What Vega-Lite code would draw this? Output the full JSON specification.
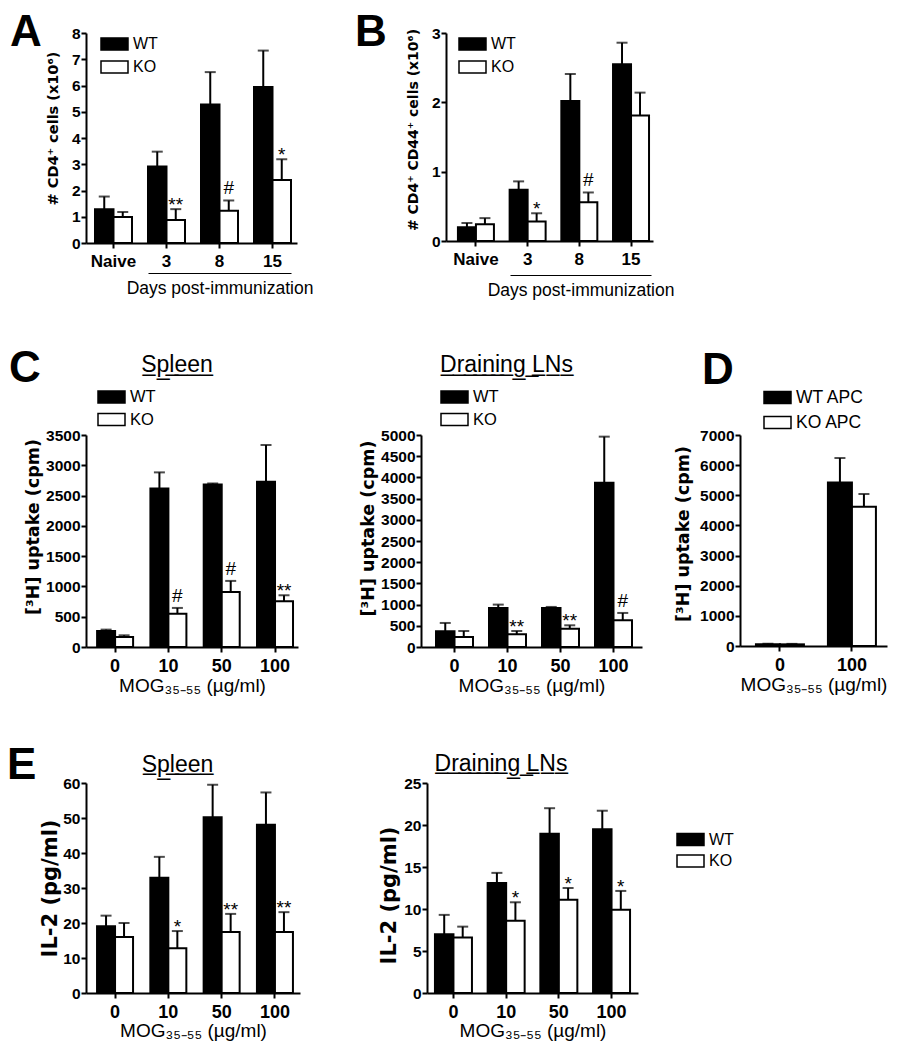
{
"$schema": "https://vega.github.io/schema/vega-lite/v6.json",
"background": "white",
"padding": {"left": 7, "top": 10, "right": 5, "bottom": 5},
"config": {
  "view": {"stroke": null},
  "font": "Liberation Sans",
  "axis": {"domainColor": "black", "domainWidth": 2, "tickColor": "black", "tickWidth": 2, "tickSize": 5, "labelColor": "black", "titleColor": "black", "grid": false, "labelFont": "Liberation Sans", "titleFont": "Liberation Sans"},
  "axisY": {"labelFontSize": 15.5, "labelFontWeight": "bold", "labelPadding": 1, "titleFont": "DejaVu Sans", "titleFontWeight": "bold"},
  "axisX": {"labelFontSize": 18, "labelFontWeight": "bold", "labelAngle": 0, "labelPadding": 5, "titleFontWeight": "normal", "titleFontSize": 19},
  "legend": {"orient": "none", "padding": 0, "labelFont": "Liberation Sans", "labelColor": "black", "labelOffset": 4, "clipHeight": 16, "symbolOffset": 0, "symbolStrokeColor": "black", "symbolStrokeWidth": 1.5},
  "title": {"color": "black", "font": "Liberation Sans", "offset": 0}
},
"datasets": {
  "A": [
    {"dose": "Naive", "g": "WT", "v": 1.29, "hi": 1.77, "sig": ""},
    {"dose": "Naive", "g": "KO", "v": 0.99, "hi": 1.18, "sig": ""},
    {"dose": "3", "g": "WT", "v": 2.91, "hi": 3.48, "sig": ""},
    {"dose": "3", "g": "KO", "v": 0.88, "hi": 1.29, "sig": "**"},
    {"dose": "8", "g": "WT", "v": 5.28, "hi": 6.51, "sig": ""},
    {"dose": "8", "g": "KO", "v": 1.23, "hi": 1.62, "sig": "#"},
    {"dose": "15", "g": "WT", "v": 5.94, "hi": 7.33, "sig": ""},
    {"dose": "15", "g": "KO", "v": 2.40, "hi": 3.19, "sig": "*"}
  ],
  "B": [
    {"dose": "Naive", "g": "WT", "v": 0.20, "hi": 0.26, "sig": ""},
    {"dose": "Naive", "g": "KO", "v": 0.24, "hi": 0.33, "sig": ""},
    {"dose": "3", "g": "WT", "v": 0.74, "hi": 0.86, "sig": ""},
    {"dose": "3", "g": "KO", "v": 0.28, "hi": 0.40, "sig": "*"},
    {"dose": "8", "g": "WT", "v": 2.02, "hi": 2.41, "sig": ""},
    {"dose": "8", "g": "KO", "v": 0.56, "hi": 0.70, "sig": "#"},
    {"dose": "15", "g": "WT", "v": 2.55, "hi": 2.86, "sig": ""},
    {"dose": "15", "g": "KO", "v": 1.81, "hi": 2.14, "sig": ""}
  ],
  "Cs": [
    {"dose": "0", "g": "WT", "v": 265, "hi": 287, "sig": ""},
    {"dose": "0", "g": "KO", "v": 165, "hi": 193, "sig": ""},
    {"dose": "10", "g": "WT", "v": 2618, "hi": 2883, "sig": ""},
    {"dose": "10", "g": "KO", "v": 551, "hi": 645, "sig": "#"},
    {"dose": "50", "g": "WT", "v": 2684, "hi": 2700, "sig": ""},
    {"dose": "50", "g": "KO", "v": 909, "hi": 1091, "sig": "#"},
    {"dose": "100", "g": "WT", "v": 2728, "hi": 3335, "sig": ""},
    {"dose": "100", "g": "KO", "v": 755, "hi": 854, "sig": "**"}
  ],
  "Cl": [
    {"dose": "0", "g": "WT", "v": 370, "hi": 567, "sig": ""},
    {"dose": "0", "g": "KO", "v": 236, "hi": 378, "sig": ""},
    {"dose": "10", "g": "WT", "v": 921, "hi": 1000, "sig": ""},
    {"dose": "10", "g": "KO", "v": 299, "hi": 378, "sig": "**"},
    {"dose": "50", "g": "WT", "v": 921, "hi": 945, "sig": ""},
    {"dose": "50", "g": "KO", "v": 433, "hi": 512, "sig": "**"},
    {"dose": "100", "g": "WT", "v": 3874, "hi": 4961, "sig": ""},
    {"dose": "100", "g": "KO", "v": 630, "hi": 803, "sig": "#"}
  ],
  "D": [
    {"dose": "0", "g": "WT APC", "v": 60, "hi": 75, "sig": ""},
    {"dose": "0", "g": "KO APC", "v": 55, "hi": 70, "sig": ""},
    {"dose": "100", "g": "WT APC", "v": 5427, "hi": 6236, "sig": ""},
    {"dose": "100", "g": "KO APC", "v": 4619, "hi": 5040, "sig": ""}
  ],
  "Es": [
    {"dose": "0", "g": "WT", "v": 19.1, "hi": 22.1, "sig": ""},
    {"dose": "0", "g": "KO", "v": 16.0, "hi": 20.0, "sig": ""},
    {"dose": "10", "g": "WT", "v": 32.9, "hi": 38.9, "sig": ""},
    {"dose": "10", "g": "KO", "v": 12.8, "hi": 17.7, "sig": "*"},
    {"dose": "50", "g": "WT", "v": 50.2, "hi": 59.5, "sig": ""},
    {"dose": "50", "g": "KO", "v": 17.4, "hi": 22.6, "sig": "**"},
    {"dose": "100", "g": "WT", "v": 48.1, "hi": 57.3, "sig": ""},
    {"dose": "100", "g": "KO", "v": 17.4, "hi": 23.1, "sig": "**"}
  ],
  "El": [
    {"dose": "0", "g": "WT", "v": 7.0, "hi": 9.3, "sig": ""},
    {"dose": "0", "g": "KO", "v": 6.6, "hi": 7.9, "sig": ""},
    {"dose": "10", "g": "WT", "v": 13.1, "hi": 14.3, "sig": ""},
    {"dose": "10", "g": "KO", "v": 8.6, "hi": 10.8, "sig": "*"},
    {"dose": "50", "g": "WT", "v": 18.95, "hi": 22.0, "sig": ""},
    {"dose": "50", "g": "KO", "v": 11.1, "hi": 12.5, "sig": "*"},
    {"dose": "100", "g": "WT", "v": 19.5, "hi": 21.7, "sig": ""},
    {"dose": "100", "g": "KO", "v": 9.9, "hi": 12.15, "sig": "*"}
  ]
},
"bounds": "flush",
"spacing": 402,
"resolve": {"scale": {"fill": "independent"}, "legend": {"fill": "independent"}},
"vconcat": [
  {
    "hconcat": [
      {
        "width": 211, "height": 210,
        "data": {"name": "A"},
        "title": {"text": "A", "anchor": "start", "frame": "group", "orient": "top", "offset": 0, "fontSize": 44, "fontWeight": "bold", "baseline": "alphabetic", "dx": -76, "dy": 63.6},
        "layer": [
          {
            "encoding": {
              "x": {"field": "dose", "type": "nominal", "sort": ["Naive", "3", "8", "15"], "scale": {"paddingInner": 0.302, "paddingOuter": 0.1415, "align": 0.6}, "axis": {"title": null, "labelFontSize": 17}}
            },
            "layer": [
              {"transform": [{"filter": "datum.g == 'WT'"}], "mark": {"type": "bar", "stroke": "black", "strokeWidth": 2, "width": 18.5, "xOffset": -9.25},
               "encoding": {
                 "y": {"field": "v", "type": "quantitative", "title": "# CD4⁺ cells (x10⁶)", "scale": {"domain": [0, 8], "nice": false}, "axis": {"values": [0, 1, 2, 3, 4, 5, 6, 7, 8], "format": "d", "title": "# CD4⁺ cells (x10⁶)", "titleFontSize": 14.5, "titlePadding": 11, "titleY": 95}},
                 "fill": {"field": "g", "type": "nominal", "scale": {"domain": ["WT", "KO"], "range": ["black", "white"]}, "legend": {"title": null, "orient": "none", "legendX": 14, "legendY": 3, "labelFontSize": 16, "rowPadding": 7, "symbolType": "M-1,-0.45H1V0.45H-1Z", "symbolSize": 729}}
               }},
              {"transform": [{"filter": "datum.g == 'KO'"}], "mark": {"type": "bar", "stroke": "black", "strokeWidth": 2, "width": 18.5, "xOffset": 9.25},
               "encoding": {
                 "y": {"field": "v", "type": "quantitative", "title": "# CD4⁺ cells (x10⁶)", "scale": {"domain": [0, 8], "nice": false}, "axis": {"values": [0, 1, 2, 3, 4, 5, 6, 7, 8], "format": "d", "title": "# CD4⁺ cells (x10⁶)", "titleFontSize": 14.5, "titlePadding": 11, "titleY": 95}},
                 "fill": {"field": "g", "type": "nominal", "scale": {"domain": ["WT", "KO"], "range": ["black", "white"]}, "legend": {"title": null, "orient": "none", "legendX": 14, "legendY": 3, "labelFontSize": 16, "rowPadding": 7, "symbolType": "M-1,-0.45H1V0.45H-1Z", "symbolSize": 729}}
               }},
              {"transform": [{"filter": "datum.g == 'WT'"}], "mark": {"type": "rule", "strokeWidth": 2, "color": "black", "xOffset": -9.25},
               "encoding": {"y": {"field": "v", "type": "quantitative", "title": "# CD4⁺ cells (x10⁶)", "scale": {"domain": [0, 8], "nice": false}, "axis": {"values": [0, 1, 2, 3, 4, 5, 6, 7, 8], "format": "d", "title": "# CD4⁺ cells (x10⁶)", "titleFontSize": 14.5, "titlePadding": 11, "titleY": 95}}, "y2": {"field": "hi"}}},
              {"transform": [{"filter": "datum.g == 'KO'"}], "mark": {"type": "rule", "strokeWidth": 2, "color": "black", "xOffset": 9.25},
               "encoding": {"y": {"field": "v", "type": "quantitative", "title": "# CD4⁺ cells (x10⁶)", "scale": {"domain": [0, 8], "nice": false}, "axis": {"values": [0, 1, 2, 3, 4, 5, 6, 7, 8], "format": "d", "title": "# CD4⁺ cells (x10⁶)", "titleFontSize": 14.5, "titlePadding": 11, "titleY": 95}}, "y2": {"field": "hi"}}},
              {"transform": [{"filter": "datum.g == 'WT'"}], "mark": {"type": "tick", "orient": "horizontal", "size": 11, "thickness": 2, "color": "black", "xOffset": -9.25},
               "encoding": {"y": {"field": "hi", "type": "quantitative", "title": "# CD4⁺ cells (x10⁶)", "scale": {"domain": [0, 8], "nice": false}, "axis": {"values": [0, 1, 2, 3, 4, 5, 6, 7, 8], "format": "d", "title": "# CD4⁺ cells (x10⁶)", "titleFontSize": 14.5, "titlePadding": 11, "titleY": 95}}}},
              {"transform": [{"filter": "datum.g == 'KO'"}], "mark": {"type": "tick", "orient": "horizontal", "size": 11, "thickness": 2, "color": "black", "xOffset": 9.25},
               "encoding": {"y": {"field": "hi", "type": "quantitative", "title": "# CD4⁺ cells (x10⁶)", "scale": {"domain": [0, 8], "nice": false}, "axis": {"values": [0, 1, 2, 3, 4, 5, 6, 7, 8], "format": "d", "title": "# CD4⁺ cells (x10⁶)", "titleFontSize": 14.5, "titlePadding": 11, "titleY": 95}}}},
              {"transform": [{"filter": "datum.sig == '#'"}],
               "mark": {"type": "text", "fontSize": 19, "baseline": "alphabetic", "dy": -6, "xOffset": 9.25, "color": "black"},
               "encoding": {"y": {"field": "hi", "type": "quantitative", "title": "# CD4⁺ cells (x10⁶)", "scale": {"domain": [0, 8], "nice": false}, "axis": {"values": [0, 1, 2, 3, 4, 5, 6, 7, 8], "format": "d", "title": "# CD4⁺ cells (x10⁶)", "titleFontSize": 14.5, "titlePadding": 11, "titleY": 95}}, "text": {"field": "sig"}}},
              {"transform": [{"filter": "datum.sig == '*' || datum.sig == '**'"}],
               "mark": {"type": "text", "fontSize": 19, "baseline": "alphabetic", "dy": 2, "xOffset": 9.25, "color": "black"},
               "encoding": {"y": {"field": "hi", "type": "quantitative", "title": "# CD4⁺ cells (x10⁶)", "scale": {"domain": [0, 8], "nice": false}, "axis": {"values": [0, 1, 2, 3, 4, 5, 6, 7, 8], "format": "d", "title": "# CD4⁺ cells (x10⁶)", "titleFontSize": 14.5, "titlePadding": 11, "titleY": 95}}, "text": {"field": "sig"}}}
            ]
          },
          {
            "transform": [{"filter": "datum.dose != 'Naive' && datum.g == 'WT'"}],
            "mark": {"type": "point", "opacity": 0},
            "encoding": {"x": {"field": "dose", "type": "ordinal", "scale": {"type": "point", "domain": ["3", "8", "15"], "range": [62, 205], "padding": 0}, "axis": {"orient": "bottom", "offset": 30, "ticks": false, "labels": false, "domainWidth": 1, "title": "Days post-immunization", "titleFontWeight": "normal", "titleFontSize": 17.5, "titlePadding": 6}}}
          }
        ],
        "resolve": {"scale": {"x": "independent"}, "axis": {"x": "independent"}}
      },
      {
        "width": 207, "height": 208,
        "data": {"name": "B"},
        "title": {"text": "B", "anchor": "start", "frame": "group", "orient": "top", "offset": 0, "fontSize": 44, "fontWeight": "bold", "baseline": "alphabetic", "dx": -91, "dy": 63.6},
        "layer": [
          {
            "encoding": {
              "x": {"field": "dose", "type": "nominal", "sort": ["Naive", "3", "8", "15"], "scale": {"paddingInner": 0.304, "paddingOuter": 0.154, "align": 0.75}, "axis": {"title": null, "labelFontSize": 17}}
            },
            "layer": [
              {"transform": [{"filter": "datum.g == 'WT'"}], "mark": {"type": "bar", "stroke": "black", "strokeWidth": 2, "width": 18, "xOffset": -9},
               "encoding": {
                 "y": {"field": "v", "type": "quantitative", "title": "# CD4⁺ CD44⁺ cells (x10⁶)", "scale": {"domain": [0, 3], "nice": false}, "axis": {"values": [0, 1, 2, 3], "format": "d", "title": "# CD4⁺ CD44⁺ cells (x10⁶)", "titleFontSize": 14, "titlePadding": 11, "titleY": 96.5}},
                 "fill": {"field": "g", "type": "nominal", "scale": {"domain": ["WT", "KO"], "range": ["black", "white"]}, "legend": {"title": null, "orient": "none", "legendX": 12, "legendY": 3, "labelFontSize": 16, "rowPadding": 7, "symbolType": "M-1,-0.45H1V0.45H-1Z", "symbolSize": 729}}
               }},
              {"transform": [{"filter": "datum.g == 'KO'"}], "mark": {"type": "bar", "stroke": "black", "strokeWidth": 2, "width": 18, "xOffset": 9},
               "encoding": {
                 "y": {"field": "v", "type": "quantitative", "title": "# CD4⁺ CD44⁺ cells (x10⁶)", "scale": {"domain": [0, 3], "nice": false}, "axis": {"values": [0, 1, 2, 3], "format": "d", "title": "# CD4⁺ CD44⁺ cells (x10⁶)", "titleFontSize": 14, "titlePadding": 11, "titleY": 96.5}},
                 "fill": {"field": "g", "type": "nominal", "scale": {"domain": ["WT", "KO"], "range": ["black", "white"]}, "legend": {"title": null, "orient": "none", "legendX": 12, "legendY": 3, "labelFontSize": 16, "rowPadding": 7, "symbolType": "M-1,-0.45H1V0.45H-1Z", "symbolSize": 729}}
               }},
              {"transform": [{"filter": "datum.g == 'WT'"}], "mark": {"type": "rule", "strokeWidth": 2, "color": "black", "xOffset": -9},
               "encoding": {"y": {"field": "v", "type": "quantitative", "title": "# CD4⁺ CD44⁺ cells (x10⁶)", "scale": {"domain": [0, 3], "nice": false}, "axis": {"values": [0, 1, 2, 3], "format": "d", "title": "# CD4⁺ CD44⁺ cells (x10⁶)", "titleFontSize": 14, "titlePadding": 11, "titleY": 96.5}}, "y2": {"field": "hi"}}},
              {"transform": [{"filter": "datum.g == 'KO'"}], "mark": {"type": "rule", "strokeWidth": 2, "color": "black", "xOffset": 9},
               "encoding": {"y": {"field": "v", "type": "quantitative", "title": "# CD4⁺ CD44⁺ cells (x10⁶)", "scale": {"domain": [0, 3], "nice": false}, "axis": {"values": [0, 1, 2, 3], "format": "d", "title": "# CD4⁺ CD44⁺ cells (x10⁶)", "titleFontSize": 14, "titlePadding": 11, "titleY": 96.5}}, "y2": {"field": "hi"}}},
              {"transform": [{"filter": "datum.g == 'WT'"}], "mark": {"type": "tick", "orient": "horizontal", "size": 11, "thickness": 2, "color": "black", "xOffset": -9},
               "encoding": {"y": {"field": "hi", "type": "quantitative", "title": "# CD4⁺ CD44⁺ cells (x10⁶)", "scale": {"domain": [0, 3], "nice": false}, "axis": {"values": [0, 1, 2, 3], "format": "d", "title": "# CD4⁺ CD44⁺ cells (x10⁶)", "titleFontSize": 14, "titlePadding": 11, "titleY": 96.5}}}},
              {"transform": [{"filter": "datum.g == 'KO'"}], "mark": {"type": "tick", "orient": "horizontal", "size": 11, "thickness": 2, "color": "black", "xOffset": 9},
               "encoding": {"y": {"field": "hi", "type": "quantitative", "title": "# CD4⁺ CD44⁺ cells (x10⁶)", "scale": {"domain": [0, 3], "nice": false}, "axis": {"values": [0, 1, 2, 3], "format": "d", "title": "# CD4⁺ CD44⁺ cells (x10⁶)", "titleFontSize": 14, "titlePadding": 11, "titleY": 96.5}}}},
              {"transform": [{"filter": "datum.sig == '#'"}],
               "mark": {"type": "text", "fontSize": 19, "baseline": "alphabetic", "dy": -6, "xOffset": 9, "color": "black"},
               "encoding": {"y": {"field": "hi", "type": "quantitative", "title": "# CD4⁺ CD44⁺ cells (x10⁶)", "scale": {"domain": [0, 3], "nice": false}, "axis": {"values": [0, 1, 2, 3], "format": "d", "title": "# CD4⁺ CD44⁺ cells (x10⁶)", "titleFontSize": 14, "titlePadding": 11, "titleY": 96.5}}, "text": {"field": "sig"}}},
              {"transform": [{"filter": "datum.sig == '*' || datum.sig == '**'"}],
               "mark": {"type": "text", "fontSize": 19, "baseline": "alphabetic", "dy": 2, "xOffset": 9, "color": "black"},
               "encoding": {"y": {"field": "hi", "type": "quantitative", "title": "# CD4⁺ CD44⁺ cells (x10⁶)", "scale": {"domain": [0, 3], "nice": false}, "axis": {"values": [0, 1, 2, 3], "format": "d", "title": "# CD4⁺ CD44⁺ cells (x10⁶)", "titleFontSize": 14, "titlePadding": 11, "titleY": 96.5}}, "text": {"field": "sig"}}}
            ]
          },
          {
            "transform": [{"filter": "datum.dose != 'Naive' && datum.g == 'WT'"}],
            "mark": {"type": "point", "opacity": 0},
            "encoding": {"x": {"field": "dose", "type": "ordinal", "scale": {"type": "point", "domain": ["3", "8", "15"], "range": [64, 205], "padding": 0}, "axis": {"orient": "bottom", "offset": 34, "ticks": false, "labels": false, "domainWidth": 1, "title": "Days post-immunization", "titleFontWeight": "normal", "titleFontSize": 17.5, "titlePadding": 6}}}
          }
        ],
        "resolve": {"scale": {"x": "independent"}, "axis": {"x": "independent"}}
      }
    ],
    "bounds": "flush",
    "spacing": 149,
    "resolve": {"scale": {"fill": "independent"}, "legend": {"fill": "independent"}}
  },
  {
    "vconcat": [
      {
        "hconcat": [
          {
            "title": {"text": "C", "anchor": "start", "frame": "group", "orient": "top", "offset": 0, "fontSize": 44, "fontWeight": "bold", "baseline": "alphabetic", "dx": -77, "dy": 72.2},
            "hconcat": [
              {
                "width": 212, "height": 212,
                "data": {"name": "Cs"},
                "title": {"text": "S\u0332p\u0332l\u0332e\u0332e\u0332n\u0332", "anchor": "middle", "frame": "group", "orient": "top", "offset": 0, "fontSize": 23, "fontWeight": "normal", "baseline": "alphabetic", "dx": -15, "dy": 6.1},
                "encoding": {
                  "x": {"field": "dose", "type": "nominal", "sort": ["0", "10", "50", "100"], "scale": {"paddingInner": 0.325, "paddingOuter": 0.151, "align": 0.69}, "axis": {"title": "MOG₃₅₋₅₅ (µg/ml)", "titlePadding": 1}}
                },
                "layer": [
                  {"transform": [{"filter": "datum.g == 'WT'"}], "mark": {"type": "bar", "stroke": "black", "strokeWidth": 2, "width": 18, "xOffset": -9},
                   "encoding": {
                     "y": {"field": "v", "type": "quantitative", "title": "[³H] uptake (cpm)", "scale": {"domain": [0, 3500], "nice": false}, "axis": {"values": [0, 500, 1000, 1500, 2000, 2500, 3000, 3500], "format": "d", "title": "[³H] uptake (cpm)", "titleFontSize": 17.5, "titlePadding": 3, "titleY": 91.5}},
                     "fill": {"field": "g", "type": "nominal", "scale": {"domain": ["WT", "KO"], "range": ["black", "white"]}, "legend": {"title": null, "orient": "none", "legendX": 11, "legendY": -46, "labelFontSize": 16.5, "rowPadding": 5.5, "symbolType": "M-1,-0.45H1V0.45H-1Z", "symbolSize": 729}}
                   }},
                  {"transform": [{"filter": "datum.g == 'KO'"}], "mark": {"type": "bar", "stroke": "black", "strokeWidth": 2, "width": 18, "xOffset": 9},
                   "encoding": {
                     "y": {"field": "v", "type": "quantitative", "title": "[³H] uptake (cpm)", "scale": {"domain": [0, 3500], "nice": false}, "axis": {"values": [0, 500, 1000, 1500, 2000, 2500, 3000, 3500], "format": "d", "title": "[³H] uptake (cpm)", "titleFontSize": 17.5, "titlePadding": 3, "titleY": 91.5}},
                     "fill": {"field": "g", "type": "nominal", "scale": {"domain": ["WT", "KO"], "range": ["black", "white"]}, "legend": {"title": null, "orient": "none", "legendX": 11, "legendY": -46, "labelFontSize": 16.5, "rowPadding": 5.5, "symbolType": "M-1,-0.45H1V0.45H-1Z", "symbolSize": 729}}
                   }},
                  {"transform": [{"filter": "datum.g == 'WT'"}], "mark": {"type": "rule", "strokeWidth": 2, "color": "black", "xOffset": -9},
                   "encoding": {"y": {"field": "v", "type": "quantitative", "title": "[³H] uptake (cpm)", "scale": {"domain": [0, 3500], "nice": false}, "axis": {"values": [0, 500, 1000, 1500, 2000, 2500, 3000, 3500], "format": "d", "title": "[³H] uptake (cpm)", "titleFontSize": 17.5, "titlePadding": 3, "titleY": 91.5}}, "y2": {"field": "hi"}}},
                  {"transform": [{"filter": "datum.g == 'KO'"}], "mark": {"type": "rule", "strokeWidth": 2, "color": "black", "xOffset": 9},
                   "encoding": {"y": {"field": "v", "type": "quantitative", "title": "[³H] uptake (cpm)", "scale": {"domain": [0, 3500], "nice": false}, "axis": {"values": [0, 500, 1000, 1500, 2000, 2500, 3000, 3500], "format": "d", "title": "[³H] uptake (cpm)", "titleFontSize": 17.5, "titlePadding": 3, "titleY": 91.5}}, "y2": {"field": "hi"}}},
                  {"transform": [{"filter": "datum.g == 'WT'"}], "mark": {"type": "tick", "orient": "horizontal", "size": 11, "thickness": 2, "color": "black", "xOffset": -9},
                   "encoding": {"y": {"field": "hi", "type": "quantitative", "title": "[³H] uptake (cpm)", "scale": {"domain": [0, 3500], "nice": false}, "axis": {"values": [0, 500, 1000, 1500, 2000, 2500, 3000, 3500], "format": "d", "title": "[³H] uptake (cpm)", "titleFontSize": 17.5, "titlePadding": 3, "titleY": 91.5}}}},
                  {"transform": [{"filter": "datum.g == 'KO'"}], "mark": {"type": "tick", "orient": "horizontal", "size": 11, "thickness": 2, "color": "black", "xOffset": 9},
                   "encoding": {"y": {"field": "hi", "type": "quantitative", "title": "[³H] uptake (cpm)", "scale": {"domain": [0, 3500], "nice": false}, "axis": {"values": [0, 500, 1000, 1500, 2000, 2500, 3000, 3500], "format": "d", "title": "[³H] uptake (cpm)", "titleFontSize": 17.5, "titlePadding": 3, "titleY": 91.5}}}},
                  {"transform": [{"filter": "datum.sig == '#'"}],
                   "mark": {"type": "text", "fontSize": 19, "baseline": "alphabetic", "dy": -6, "xOffset": 9, "color": "black"},
                   "encoding": {"y": {"field": "hi", "type": "quantitative", "title": "[³H] uptake (cpm)", "scale": {"domain": [0, 3500], "nice": false}, "axis": {"values": [0, 500, 1000, 1500, 2000, 2500, 3000, 3500], "format": "d", "title": "[³H] uptake (cpm)", "titleFontSize": 17.5, "titlePadding": 3, "titleY": 91.5}}, "text": {"field": "sig"}}},
                  {"transform": [{"filter": "datum.sig == '*' || datum.sig == '**'"}],
                   "mark": {"type": "text", "fontSize": 19, "baseline": "alphabetic", "dy": 2, "xOffset": 9, "color": "black"},
                   "encoding": {"y": {"field": "hi", "type": "quantitative", "title": "[³H] uptake (cpm)", "scale": {"domain": [0, 3500], "nice": false}, "axis": {"values": [0, 500, 1000, 1500, 2000, 2500, 3000, 3500], "format": "d", "title": "[³H] uptake (cpm)", "titleFontSize": 17.5, "titlePadding": 3, "titleY": 91.5}}, "text": {"field": "sig"}}}
                ]
              },
              {
                "width": 221, "height": 212,
                "data": {"name": "Cl"},
                "title": {"text": "D\u0332r\u0332a\u0332i\u0332n\u0332i\u0332n\u0332g\u0332 \u0332L\u0332N\u0332s\u0332", "anchor": "middle", "frame": "group", "orient": "top", "offset": 0, "fontSize": 23, "fontWeight": "normal", "baseline": "alphabetic", "dx": -25, "dy": 6.1},
                "encoding": {
                  "x": {"field": "dose", "type": "nominal", "sort": ["0", "10", "50", "100"], "scale": {"paddingInner": 0.302, "paddingOuter": 0.236, "align": 0.6}, "axis": {"title": "MOG₃₅₋₅₅ (µg/ml)", "titlePadding": 1}}
                },
                "layer": [
                  {"transform": [{"filter": "datum.g == 'WT'"}], "mark": {"type": "bar", "stroke": "black", "strokeWidth": 2, "width": 18.5, "xOffset": -9.25},
                   "encoding": {
                     "y": {"field": "v", "type": "quantitative", "title": "[³H] uptake (cpm)", "scale": {"domain": [0, 5000], "nice": false}, "axis": {"values": [0, 500, 1000, 1500, 2000, 2500, 3000, 3500, 4000, 4500, 5000], "format": "d", "title": "[³H] uptake (cpm)", "titleFontSize": 17.5, "titlePadding": 3, "titleY": 93}},
                     "fill": {"field": "g", "type": "nominal", "scale": {"domain": ["WT", "KO"], "range": ["black", "white"]}, "legend": {"title": null, "orient": "none", "legendX": 19, "legendY": -46, "labelFontSize": 16.5, "rowPadding": 5.5, "symbolType": "M-1,-0.45H1V0.45H-1Z", "symbolSize": 729}}
                   }},
                  {"transform": [{"filter": "datum.g == 'KO'"}], "mark": {"type": "bar", "stroke": "black", "strokeWidth": 2, "width": 18.5, "xOffset": 9.25},
                   "encoding": {
                     "y": {"field": "v", "type": "quantitative", "title": "[³H] uptake (cpm)", "scale": {"domain": [0, 5000], "nice": false}, "axis": {"values": [0, 500, 1000, 1500, 2000, 2500, 3000, 3500, 4000, 4500, 5000], "format": "d", "title": "[³H] uptake (cpm)", "titleFontSize": 17.5, "titlePadding": 3, "titleY": 93}},
                     "fill": {"field": "g", "type": "nominal", "scale": {"domain": ["WT", "KO"], "range": ["black", "white"]}, "legend": {"title": null, "orient": "none", "legendX": 19, "legendY": -46, "labelFontSize": 16.5, "rowPadding": 5.5, "symbolType": "M-1,-0.45H1V0.45H-1Z", "symbolSize": 729}}
                   }},
                  {"transform": [{"filter": "datum.g == 'WT'"}], "mark": {"type": "rule", "strokeWidth": 2, "color": "black", "xOffset": -9.25},
                   "encoding": {"y": {"field": "v", "type": "quantitative", "title": "[³H] uptake (cpm)", "scale": {"domain": [0, 5000], "nice": false}, "axis": {"values": [0, 500, 1000, 1500, 2000, 2500, 3000, 3500, 4000, 4500, 5000], "format": "d", "title": "[³H] uptake (cpm)", "titleFontSize": 17.5, "titlePadding": 3, "titleY": 93}}, "y2": {"field": "hi"}}},
                  {"transform": [{"filter": "datum.g == 'KO'"}], "mark": {"type": "rule", "strokeWidth": 2, "color": "black", "xOffset": 9.25},
                   "encoding": {"y": {"field": "v", "type": "quantitative", "title": "[³H] uptake (cpm)", "scale": {"domain": [0, 5000], "nice": false}, "axis": {"values": [0, 500, 1000, 1500, 2000, 2500, 3000, 3500, 4000, 4500, 5000], "format": "d", "title": "[³H] uptake (cpm)", "titleFontSize": 17.5, "titlePadding": 3, "titleY": 93}}, "y2": {"field": "hi"}}},
                  {"transform": [{"filter": "datum.g == 'WT'"}], "mark": {"type": "tick", "orient": "horizontal", "size": 11, "thickness": 2, "color": "black", "xOffset": -9.25},
                   "encoding": {"y": {"field": "hi", "type": "quantitative", "title": "[³H] uptake (cpm)", "scale": {"domain": [0, 5000], "nice": false}, "axis": {"values": [0, 500, 1000, 1500, 2000, 2500, 3000, 3500, 4000, 4500, 5000], "format": "d", "title": "[³H] uptake (cpm)", "titleFontSize": 17.5, "titlePadding": 3, "titleY": 93}}}},
                  {"transform": [{"filter": "datum.g == 'KO'"}], "mark": {"type": "tick", "orient": "horizontal", "size": 11, "thickness": 2, "color": "black", "xOffset": 9.25},
                   "encoding": {"y": {"field": "hi", "type": "quantitative", "title": "[³H] uptake (cpm)", "scale": {"domain": [0, 5000], "nice": false}, "axis": {"values": [0, 500, 1000, 1500, 2000, 2500, 3000, 3500, 4000, 4500, 5000], "format": "d", "title": "[³H] uptake (cpm)", "titleFontSize": 17.5, "titlePadding": 3, "titleY": 93}}}},
                  {"transform": [{"filter": "datum.sig == '#'"}],
                   "mark": {"type": "text", "fontSize": 19, "baseline": "alphabetic", "dy": -6, "xOffset": 9.25, "color": "black"},
                   "encoding": {"y": {"field": "hi", "type": "quantitative", "title": "[³H] uptake (cpm)", "scale": {"domain": [0, 5000], "nice": false}, "axis": {"values": [0, 500, 1000, 1500, 2000, 2500, 3000, 3500, 4000, 4500, 5000], "format": "d", "title": "[³H] uptake (cpm)", "titleFontSize": 17.5, "titlePadding": 3, "titleY": 93}}, "text": {"field": "sig"}}},
                  {"transform": [{"filter": "datum.sig == '*' || datum.sig == '**'"}],
                   "mark": {"type": "text", "fontSize": 19, "baseline": "alphabetic", "dy": 2, "xOffset": 9.25, "color": "black"},
                   "encoding": {"y": {"field": "hi", "type": "quantitative", "title": "[³H] uptake (cpm)", "scale": {"domain": [0, 5000], "nice": false}, "axis": {"values": [0, 500, 1000, 1500, 2000, 2500, 3000, 3500, 4000, 4500, 5000], "format": "d", "title": "[³H] uptake (cpm)", "titleFontSize": 17.5, "titlePadding": 3, "titleY": 93}}, "text": {"field": "sig"}}}
                ]
              }
            ],
            "bounds": "flush",
            "spacing": 123,
            "resolve": {"scale": {"fill": "independent"}, "legend": {"fill": "independent"}}
          },
          {
            "width": 147, "height": 211,
            "data": {"name": "D"},
            "title": {"text": "D", "anchor": "start", "frame": "group", "orient": "top", "offset": 0, "fontSize": 44, "fontWeight": "bold", "baseline": "alphabetic", "dx": -38, "dy": 38.1},
            "encoding": {
              "x": {"field": "dose", "type": "nominal", "sort": ["0", "100"], "scale": {"paddingInner": 0.333, "paddingOuter": 0.1875, "align": 0.59}, "axis": {"title": "MOG₃₅₋₅₅ (µg/ml)", "titlePadding": 1}}
            },
            "layer": [
              {"transform": [{"filter": "datum.g == 'WT APC'"}], "mark": {"type": "bar", "stroke": "black", "strokeWidth": 2, "width": 24, "xOffset": -12},
               "encoding": {
                 "y": {"field": "v", "type": "quantitative", "title": "[³H] uptake (cpm)", "scale": {"domain": [0, 7000], "nice": false}, "axis": {"values": [0, 1000, 2000, 3000, 4000, 5000, 6000, 7000], "format": "d", "title": "[³H] uptake (cpm)", "titleFontSize": 17.5, "titlePadding": 7, "titleY": 98.5}},
                 "fill": {"field": "g", "type": "nominal", "scale": {"domain": ["WT APC", "KO APC"], "range": ["black", "white"]}, "legend": {"title": null, "orient": "none", "legendX": 23, "legendY": -45.5, "labelFontSize": 17.5, "rowPadding": 7, "symbolType": "M-1,-0.45H1V0.45H-1Z", "symbolSize": 729}}
               }},
              {"transform": [{"filter": "datum.g == 'KO APC'"}], "mark": {"type": "bar", "stroke": "black", "strokeWidth": 2, "width": 24, "xOffset": 12},
               "encoding": {
                 "y": {"field": "v", "type": "quantitative", "title": "[³H] uptake (cpm)", "scale": {"domain": [0, 7000], "nice": false}, "axis": {"values": [0, 1000, 2000, 3000, 4000, 5000, 6000, 7000], "format": "d", "title": "[³H] uptake (cpm)", "titleFontSize": 17.5, "titlePadding": 7, "titleY": 98.5}},
                 "fill": {"field": "g", "type": "nominal", "scale": {"domain": ["WT APC", "KO APC"], "range": ["black", "white"]}, "legend": {"title": null, "orient": "none", "legendX": 23, "legendY": -45.5, "labelFontSize": 17.5, "rowPadding": 7, "symbolType": "M-1,-0.45H1V0.45H-1Z", "symbolSize": 729}}
               }},
              {"transform": [{"filter": "datum.g == 'WT APC'"}], "mark": {"type": "rule", "strokeWidth": 2, "color": "black", "xOffset": -12},
               "encoding": {"y": {"field": "v", "type": "quantitative", "title": "[³H] uptake (cpm)", "scale": {"domain": [0, 7000], "nice": false}, "axis": {"values": [0, 1000, 2000, 3000, 4000, 5000, 6000, 7000], "format": "d", "title": "[³H] uptake (cpm)", "titleFontSize": 17.5, "titlePadding": 7, "titleY": 98.5}}, "y2": {"field": "hi"}}},
              {"transform": [{"filter": "datum.g == 'KO APC'"}], "mark": {"type": "rule", "strokeWidth": 2, "color": "black", "xOffset": 12},
               "encoding": {"y": {"field": "v", "type": "quantitative", "title": "[³H] uptake (cpm)", "scale": {"domain": [0, 7000], "nice": false}, "axis": {"values": [0, 1000, 2000, 3000, 4000, 5000, 6000, 7000], "format": "d", "title": "[³H] uptake (cpm)", "titleFontSize": 17.5, "titlePadding": 7, "titleY": 98.5}}, "y2": {"field": "hi"}}},
              {"transform": [{"filter": "datum.g == 'WT APC'"}], "mark": {"type": "tick", "orient": "horizontal", "size": 11, "thickness": 2, "color": "black", "xOffset": -12},
               "encoding": {"y": {"field": "hi", "type": "quantitative", "title": "[³H] uptake (cpm)", "scale": {"domain": [0, 7000], "nice": false}, "axis": {"values": [0, 1000, 2000, 3000, 4000, 5000, 6000, 7000], "format": "d", "title": "[³H] uptake (cpm)", "titleFontSize": 17.5, "titlePadding": 7, "titleY": 98.5}}}},
              {"transform": [{"filter": "datum.g == 'KO APC'"}], "mark": {"type": "tick", "orient": "horizontal", "size": 11, "thickness": 2, "color": "black", "xOffset": 12},
               "encoding": {"y": {"field": "hi", "type": "quantitative", "title": "[³H] uptake (cpm)", "scale": {"domain": [0, 7000], "nice": false}, "axis": {"values": [0, 1000, 2000, 3000, 4000, 5000, 6000, 7000], "format": "d", "title": "[³H] uptake (cpm)", "titleFontSize": 17.5, "titlePadding": 7, "titleY": 98.5}}}}
            ]
          }
        ],
        "bounds": "flush",
        "spacing": 654,
        "resolve": {"scale": {"fill": "independent"}, "legend": {"fill": "independent"}}
      },
      {
        "title": {"text": "E", "anchor": "start", "frame": "group", "orient": "top", "offset": 0, "fontSize": 44, "fontWeight": "bold", "baseline": "alphabetic", "dx": -79, "dy": 70.2},
        "hconcat": [
          {
            "width": 214, "height": 210,
            "data": {"name": "Es"},
            "title": {"text": "S\u0332p\u0332l\u0332e\u0332e\u0332n\u0332", "anchor": "middle", "frame": "group", "orient": "top", "offset": 0, "fontSize": 23, "fontWeight": "normal", "baseline": "alphabetic", "dx": -15.5, "dy": 18.6},
            "encoding": {
              "x": {"field": "dose", "type": "nominal", "sort": ["0", "10", "50", "100"], "scale": {"paddingInner": 0.325, "paddingOuter": 0.17, "align": 0.61}, "axis": {"title": "MOG₃₅₋₅₅ (µg/ml)", "titlePadding": 0}}
            },
            "layer": [
              {"transform": [{"filter": "datum.g == 'WT'"}], "mark": {"type": "bar", "stroke": "black", "strokeWidth": 2, "width": 18, "xOffset": -9},
               "encoding": {
                 "y": {"field": "v", "type": "quantitative", "title": "IL-2 (pg/ml)", "scale": {"domain": [0, 60], "nice": false}, "axis": {"values": [0, 10, 20, 30, 40, 50, 60], "format": "d", "title": "IL-2 (pg/ml)", "titleFontSize": 21, "titlePadding": 2}},
                 "fill": {"field": "g", "type": "nominal", "scale": {"domain": ["WT", "KO"], "range": ["black", "white"]}, "legend": null}
               }},
              {"transform": [{"filter": "datum.g == 'KO'"}], "mark": {"type": "bar", "stroke": "black", "strokeWidth": 2, "width": 18, "xOffset": 9},
               "encoding": {
                 "y": {"field": "v", "type": "quantitative", "title": "IL-2 (pg/ml)", "scale": {"domain": [0, 60], "nice": false}, "axis": {"values": [0, 10, 20, 30, 40, 50, 60], "format": "d", "title": "IL-2 (pg/ml)", "titleFontSize": 21, "titlePadding": 2}},
                 "fill": {"field": "g", "type": "nominal", "scale": {"domain": ["WT", "KO"], "range": ["black", "white"]}, "legend": null}
               }},
              {"transform": [{"filter": "datum.g == 'WT'"}], "mark": {"type": "rule", "strokeWidth": 2, "color": "black", "xOffset": -9},
               "encoding": {"y": {"field": "v", "type": "quantitative", "title": "IL-2 (pg/ml)", "scale": {"domain": [0, 60], "nice": false}, "axis": {"values": [0, 10, 20, 30, 40, 50, 60], "format": "d", "title": "IL-2 (pg/ml)", "titleFontSize": 21, "titlePadding": 2}}, "y2": {"field": "hi"}}},
              {"transform": [{"filter": "datum.g == 'KO'"}], "mark": {"type": "rule", "strokeWidth": 2, "color": "black", "xOffset": 9},
               "encoding": {"y": {"field": "v", "type": "quantitative", "title": "IL-2 (pg/ml)", "scale": {"domain": [0, 60], "nice": false}, "axis": {"values": [0, 10, 20, 30, 40, 50, 60], "format": "d", "title": "IL-2 (pg/ml)", "titleFontSize": 21, "titlePadding": 2}}, "y2": {"field": "hi"}}},
              {"transform": [{"filter": "datum.g == 'WT'"}], "mark": {"type": "tick", "orient": "horizontal", "size": 11, "thickness": 2, "color": "black", "xOffset": -9},
               "encoding": {"y": {"field": "hi", "type": "quantitative", "title": "IL-2 (pg/ml)", "scale": {"domain": [0, 60], "nice": false}, "axis": {"values": [0, 10, 20, 30, 40, 50, 60], "format": "d", "title": "IL-2 (pg/ml)", "titleFontSize": 21, "titlePadding": 2}}}},
              {"transform": [{"filter": "datum.g == 'KO'"}], "mark": {"type": "tick", "orient": "horizontal", "size": 11, "thickness": 2, "color": "black", "xOffset": 9},
               "encoding": {"y": {"field": "hi", "type": "quantitative", "title": "IL-2 (pg/ml)", "scale": {"domain": [0, 60], "nice": false}, "axis": {"values": [0, 10, 20, 30, 40, 50, 60], "format": "d", "title": "IL-2 (pg/ml)", "titleFontSize": 21, "titlePadding": 2}}}},
              {"transform": [{"filter": "datum.sig == '#'"}],
               "mark": {"type": "text", "fontSize": 19, "baseline": "alphabetic", "dy": -6, "xOffset": 9, "color": "black"},
               "encoding": {"y": {"field": "hi", "type": "quantitative", "title": "IL-2 (pg/ml)", "scale": {"domain": [0, 60], "nice": false}, "axis": {"values": [0, 10, 20, 30, 40, 50, 60], "format": "d", "title": "IL-2 (pg/ml)", "titleFontSize": 21, "titlePadding": 2}}, "text": {"field": "sig"}}},
              {"transform": [{"filter": "datum.sig == '*' || datum.sig == '**'"}],
               "mark": {"type": "text", "fontSize": 19, "baseline": "alphabetic", "dy": 2, "xOffset": 9, "color": "black"},
               "encoding": {"y": {"field": "hi", "type": "quantitative", "title": "IL-2 (pg/ml)", "scale": {"domain": [0, 60], "nice": false}, "axis": {"values": [0, 10, 20, 30, 40, 50, 60], "format": "d", "title": "IL-2 (pg/ml)", "titleFontSize": 21, "titlePadding": 2}}, "text": {"field": "sig"}}}
            ]
          },
          {
            "width": 211, "height": 210,
            "data": {"name": "El"},
            "title": {"text": "D\u0332r\u0332a\u0332i\u0332n\u0332i\u0332n\u0332g\u0332 \u0332L\u0332N\u0332s\u0332", "anchor": "middle", "frame": "group", "orient": "top", "offset": 0, "fontSize": 23, "fontWeight": "normal", "baseline": "alphabetic", "dx": -31.5, "dy": 17.6},
            "encoding": {
              "x": {"field": "dose", "type": "nominal", "sort": ["0", "10", "50", "100"], "scale": {"paddingInner": 0.298, "paddingOuter": 0.151, "align": 0.5}, "axis": {"title": "MOG₃₅₋₅₅ (µg/ml)", "titlePadding": 0}}
            },
            "layer": [
              {"transform": [{"filter": "datum.g == 'WT'"}], "mark": {"type": "bar", "stroke": "black", "strokeWidth": 2, "width": 18.5, "xOffset": -9.25},
               "encoding": {
                 "y": {"field": "v", "type": "quantitative", "title": "IL-2 (pg/ml)", "scale": {"domain": [0, 25], "nice": false}, "axis": {"values": [0, 5, 10, 15, 20, 25], "format": "d", "title": "IL-2 (pg/ml)", "titleFontSize": 21, "titlePadding": 4, "titleY": 112}},
                 "fill": {"field": "g", "type": "nominal", "scale": {"domain": ["WT", "KO"], "range": ["black", "white"]}, "legend": {"title": null, "orient": "none", "legendX": 249, "legendY": 48.5, "labelFontSize": 16, "rowPadding": 5.5, "symbolType": "M-1,-0.45H1V0.45H-1Z", "symbolSize": 729}}
               }},
              {"transform": [{"filter": "datum.g == 'KO'"}], "mark": {"type": "bar", "stroke": "black", "strokeWidth": 2, "width": 18.5, "xOffset": 9.25},
               "encoding": {
                 "y": {"field": "v", "type": "quantitative", "title": "IL-2 (pg/ml)", "scale": {"domain": [0, 25], "nice": false}, "axis": {"values": [0, 5, 10, 15, 20, 25], "format": "d", "title": "IL-2 (pg/ml)", "titleFontSize": 21, "titlePadding": 4, "titleY": 112}},
                 "fill": {"field": "g", "type": "nominal", "scale": {"domain": ["WT", "KO"], "range": ["black", "white"]}, "legend": {"title": null, "orient": "none", "legendX": 249, "legendY": 48.5, "labelFontSize": 16, "rowPadding": 5.5, "symbolType": "M-1,-0.45H1V0.45H-1Z", "symbolSize": 729}}
               }},
              {"transform": [{"filter": "datum.g == 'WT'"}], "mark": {"type": "rule", "strokeWidth": 2, "color": "black", "xOffset": -9.25},
               "encoding": {"y": {"field": "v", "type": "quantitative", "title": "IL-2 (pg/ml)", "scale": {"domain": [0, 25], "nice": false}, "axis": {"values": [0, 5, 10, 15, 20, 25], "format": "d", "title": "IL-2 (pg/ml)", "titleFontSize": 21, "titlePadding": 4, "titleY": 112}}, "y2": {"field": "hi"}}},
              {"transform": [{"filter": "datum.g == 'KO'"}], "mark": {"type": "rule", "strokeWidth": 2, "color": "black", "xOffset": 9.25},
               "encoding": {"y": {"field": "v", "type": "quantitative", "title": "IL-2 (pg/ml)", "scale": {"domain": [0, 25], "nice": false}, "axis": {"values": [0, 5, 10, 15, 20, 25], "format": "d", "title": "IL-2 (pg/ml)", "titleFontSize": 21, "titlePadding": 4, "titleY": 112}}, "y2": {"field": "hi"}}},
              {"transform": [{"filter": "datum.g == 'WT'"}], "mark": {"type": "tick", "orient": "horizontal", "size": 11, "thickness": 2, "color": "black", "xOffset": -9.25},
               "encoding": {"y": {"field": "hi", "type": "quantitative", "title": "IL-2 (pg/ml)", "scale": {"domain": [0, 25], "nice": false}, "axis": {"values": [0, 5, 10, 15, 20, 25], "format": "d", "title": "IL-2 (pg/ml)", "titleFontSize": 21, "titlePadding": 4, "titleY": 112}}}},
              {"transform": [{"filter": "datum.g == 'KO'"}], "mark": {"type": "tick", "orient": "horizontal", "size": 11, "thickness": 2, "color": "black", "xOffset": 9.25},
               "encoding": {"y": {"field": "hi", "type": "quantitative", "title": "IL-2 (pg/ml)", "scale": {"domain": [0, 25], "nice": false}, "axis": {"values": [0, 5, 10, 15, 20, 25], "format": "d", "title": "IL-2 (pg/ml)", "titleFontSize": 21, "titlePadding": 4, "titleY": 112}}}},
              {"transform": [{"filter": "datum.sig == '#'"}],
               "mark": {"type": "text", "fontSize": 19, "baseline": "alphabetic", "dy": -6, "xOffset": 9.25, "color": "black"},
               "encoding": {"y": {"field": "hi", "type": "quantitative", "title": "IL-2 (pg/ml)", "scale": {"domain": [0, 25], "nice": false}, "axis": {"values": [0, 5, 10, 15, 20, 25], "format": "d", "title": "IL-2 (pg/ml)", "titleFontSize": 21, "titlePadding": 4, "titleY": 112}}, "text": {"field": "sig"}}},
              {"transform": [{"filter": "datum.sig == '*' || datum.sig == '**'"}],
               "mark": {"type": "text", "fontSize": 19, "baseline": "alphabetic", "dy": 2, "xOffset": 9.25, "color": "black"},
               "encoding": {"y": {"field": "hi", "type": "quantitative", "title": "IL-2 (pg/ml)", "scale": {"domain": [0, 25], "nice": false}, "axis": {"values": [0, 5, 10, 15, 20, 25], "format": "d", "title": "IL-2 (pg/ml)", "titleFontSize": 21, "titlePadding": 4, "titleY": 112}}, "text": {"field": "sig"}}}
            ]
          }
        ],
        "bounds": "flush",
        "spacing": 127,
        "resolve": {"scale": {"fill": "independent"}, "legend": {"fill": "independent"}}
      }
    ],
    "bounds": "flush",
    "spacing": 348,
    "resolve": {"scale": {"fill": "independent"}, "legend": {"fill": "independent"}}
  }
]
}
